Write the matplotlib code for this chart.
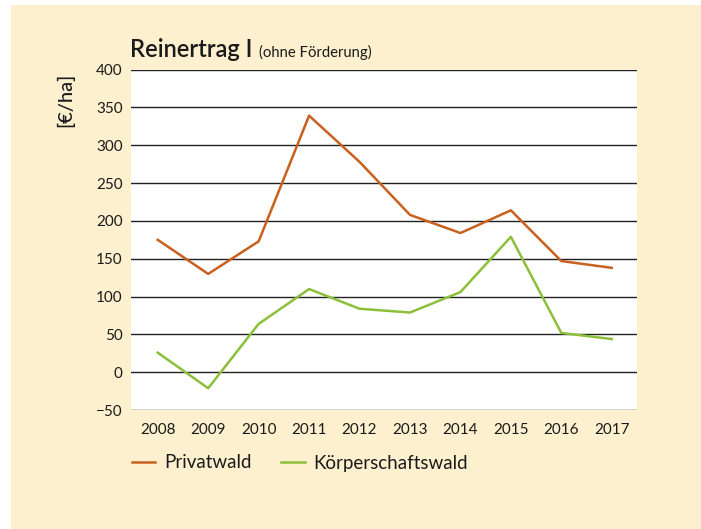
import matplotlib
matplotlib.use("Agg")
import matplotlib.pyplot as plt
from matplotlib.patches import Rectangle

plt.rcParams["font.family"] = ["Lato", "DejaVu Sans"]

years = ["2008", "2009", "2010", "2011", "2012", "2013", "2014", "2015", "2016", "2017"]
privatwald = [175, 130, 173, 339, 278, 208, 184, 214, 147, 138]
koerperschaftswald = [26, -21, 64, 110, 84, 79, 106, 179, 52, 44]
y_ticks = [-50, 0, 50, 100, 150, 200, 250, 300, 350, 400]

BG = "#FDF0CF"
ORANGE = "#C8601E"
GREEN = "#8DC03A"

fig = plt.figure(figsize=(7.01, 5.29), dpi=100)
fig.patch.set_facecolor("white")
fig.patches.append(Rectangle((11 / 701, 0), 1 - 11 / 701, 1 - 5 / 529,
                             transform=fig.transFigure, facecolor=BG,
                             edgecolor="none", zorder=-10))

ax = fig.add_axes([0.1869, 0.2246, 0.9087 - 0.1869, 0.8686 - 0.2246])
ax.set_facecolor("white")

x = list(range(len(years)))
ax.plot(x, privatwald, color=ORANGE, lw=1.8, label="Privatwald", zorder=3)
ax.plot(x, koerperschaftswald, color=GREEN, lw=1.8, label="Körperschaftswald", zorder=3)

ax.set_xlim(-0.53, 9.5)
ax.set_ylim(-50, 400)
ax.set_yticks(y_ticks)
ax.set_xticks(x)
ax.set_xticklabels(years)
for y in y_ticks:
    ax.axhline(y, color="#222222", lw=1.0, zorder=1)
for s in ax.spines.values():
    s.set_visible(False)
ax.tick_params(axis="both", length=0, labelsize=11, colors="#1a1a1a")
ax.tick_params(axis="y", pad=6)
ax.tick_params(axis="x", pad=9)

fig.text(65 / 701, 1 - 100 / 529, "[€/ha]", rotation=90, fontsize=14.5,
         weight="medium", ha="center", va="center", color="#1a1a1a")
fig.text(130 / 701, 1 - 57 / 529, "Reinertrag I", fontsize=17,
         weight="semibold", ha="left", va="baseline", color="#1a1a1a")
fig.text(259 / 701, 1 - 57 / 529, "(ohne Förderung)", fontsize=10.7,
         ha="left", va="baseline", color="#1a1a1a")

leg = ax.legend(loc="center left", bbox_to_anchor=(115 / 701, 1 - 463 / 529),
                bbox_transform=fig.transFigure, ncol=2, frameon=False,
                fontsize=13.5, handlelength=1.25, handletextpad=0.45,
                columnspacing=1.6)
for t in leg.get_texts():
    t.set_color("#1a1a1a")

fig.savefig("out.png", dpi=100, facecolor=fig.get_facecolor())
